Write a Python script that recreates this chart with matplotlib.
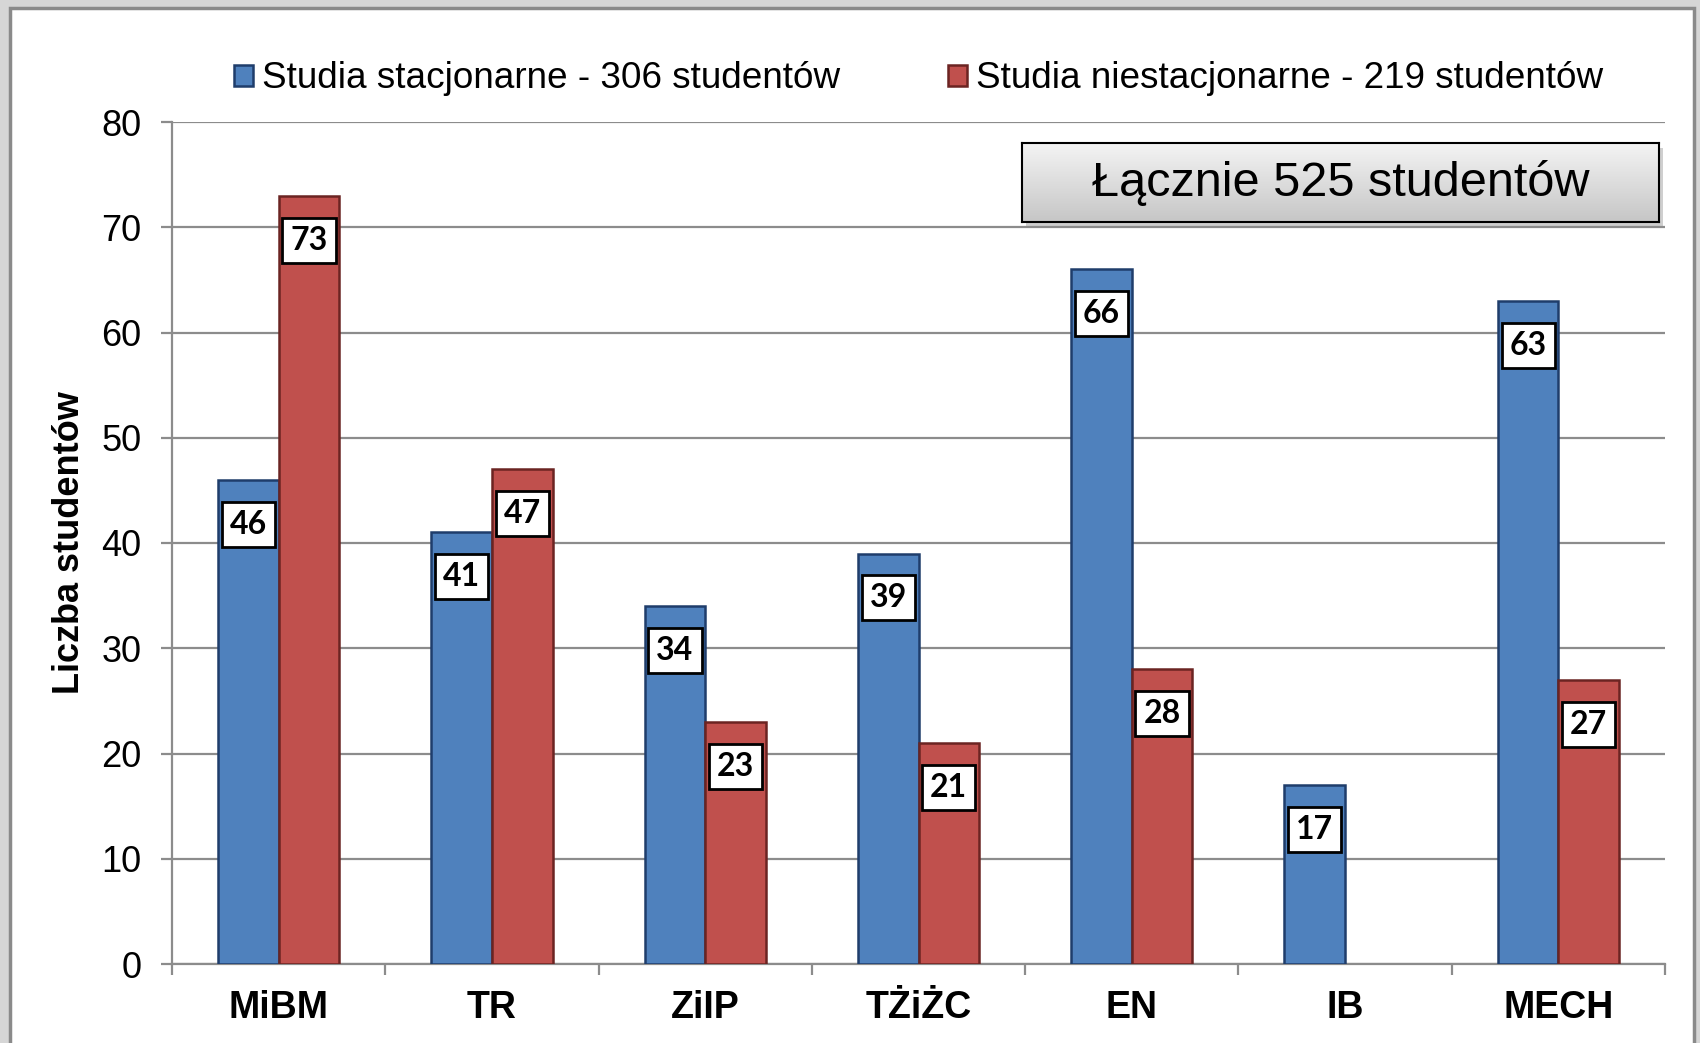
import matplotlib
matplotlib.use("Agg")
import matplotlib.pyplot as plt
import numpy as np
from matplotlib.patches import Rectangle

categories = ["MiBM", "TR", "ZiIP", "TŻiŻC", "EN", "IB", "MECH"]
stacjonarne = [46, 41, 34, 39, 66, 17, 63]
niestacjonarne = [73, 47, 23, 21, 28, 0, 27]
legend_labels = ["Studia stacjonarne - 306 studentów", "Studia niestacjonarne - 219 studentów"]
total_text = "Łącznie 525 studentów"
ylabel = "Liczba studentów"
yticks = [0, 10, 20, 30, 40, 50, 60, 70, 80]

W, H = 1700, 1043
fig = plt.figure(figsize=(W / 100, H / 100), dpi=100)
fig.patch.set_facecolor("#d6d6d6")
plt.rcParams['font.family'] = ['Liberation Sans', 'DejaVu Sans']

# white frame
fig.patches.append(Rectangle((10 / W, -0.05), (1694 - 10) / W, 1 - 8 / H + 0.05,
                             transform=fig.transFigure, facecolor="white",
                             edgecolor="#8a8a8a", linewidth=2.5, zorder=-2))

ax = fig.add_axes([172 / W, (H - 964) / H, (1665 - 172) / W, (964 - 122) / H])
ax.set_facecolor("none")
ax.set_zorder(1)

x = np.arange(len(categories))
w = 0.284
blue, blue_e = "#4F81BD", "#1F3D6B"
red, red_e = "#C0504D", "#6B2422"

b1 = ax.bar(x - w / 2, stacjonarne, w, color=blue, edgecolor=blue_e, linewidth=1.8,
            label=legend_labels[0], zorder=3)
b2 = ax.bar(x + w / 2, niestacjonarne, w, color=red, edgecolor=red_e, linewidth=1.8,
            label=legend_labels[1], zorder=3)

for bars, vals in ((b1, stacjonarne), (b2, niestacjonarne)):
    for rect, v in zip(bars, vals):
        if v <= 0:
            rect.set_visible(False)
            continue
        ax.annotate(str(v), (rect.get_x() + rect.get_width() / 2, v),
                    xytext=(0, -32), textcoords="offset points",
                    ha="center", va="center", fontsize=23, fontweight="bold",
                    family=["Lato", "DejaVu Sans"], zorder=5,
                    bbox=dict(boxstyle="square,pad=0.25", facecolor="white",
                              edgecolor="black", linewidth=2))

ax.set_xlim(-0.5, len(categories) - 0.5)
ax.set_ylim(0, 80)
ax.set_yticks(yticks)
ax.set_yticklabels([str(t) for t in yticks], fontsize=26)
ax.yaxis.grid(True, color="#8c8c8c", linewidth=1.6, zorder=0)
ax.set_axisbelow(True)

ax.set_xticks(x)
ax.set_xticklabels(categories, fontsize=27, fontweight="bold")
ax.set_xticks(np.arange(-0.5, len(categories)), minor=True)
ax.tick_params(axis="x", which="major", length=0, pad=19)
ax.tick_params(axis="x", which="minor", length=8, width=1.6, color="#8c8c8c", direction="out")
ax.tick_params(axis="y", length=8, width=1.6, color="#8c8c8c", pad=14)

for s in ["top", "right"]:
    ax.spines[s].set_visible(False)
for s in ["left", "bottom"]:
    ax.spines[s].set_color("#8c8c8c")
    ax.spines[s].set_linewidth(1.6)

ax.set_ylabel(ylabel, fontsize=26, fontweight="bold")
ax.yaxis.set_label_coords(-0.057, 0.5)

leg = ax.legend(loc="center", bbox_to_anchor=(0.5, (964 - 79) / (964 - 122)),
                ncol=2, frameon=False, fontsize=26.6, handlelength=0.53, handleheight=0.53,
                handletextpad=0.24, columnspacing=2.9, borderaxespad=0)

# total box with gradient + shadow
bx0, bx1, by0, by1 = 1022, 1659, 143, 222
fig.patches.append(Rectangle(((bx0 + 4) / W, (H - by1 - 5) / H), (bx1 - bx0) / W, (by1 - by0) / H,
                             transform=fig.transFigure, facecolor="#b0b0b0",
                             edgecolor="none", alpha=0.6, zorder=-1))
bax = fig.add_axes([bx0 / W, (H - by1) / H, (bx1 - bx0) / W, (by1 - by0) / H])
bax.set_zorder(2)
grad = np.linspace(0, 1, 100).reshape(-1, 1)
bax.imshow(grad, aspect="auto", cmap=matplotlib.colors.LinearSegmentedColormap.from_list(
    "g", ["#f4f4f4", "#c6c6c6"]), extent=(0, 1, 0, 1), origin="upper")
bax.set_xticks([])
bax.set_yticks([])
for s in bax.spines.values():
    s.set_color("black")
    s.set_linewidth(1.5)
bax.text(0.5, 0.5, total_text, ha="center", va="center", fontsize=35,
         transform=bax.transAxes)

fig.savefig("out.png", dpi=100, facecolor=fig.get_facecolor())
